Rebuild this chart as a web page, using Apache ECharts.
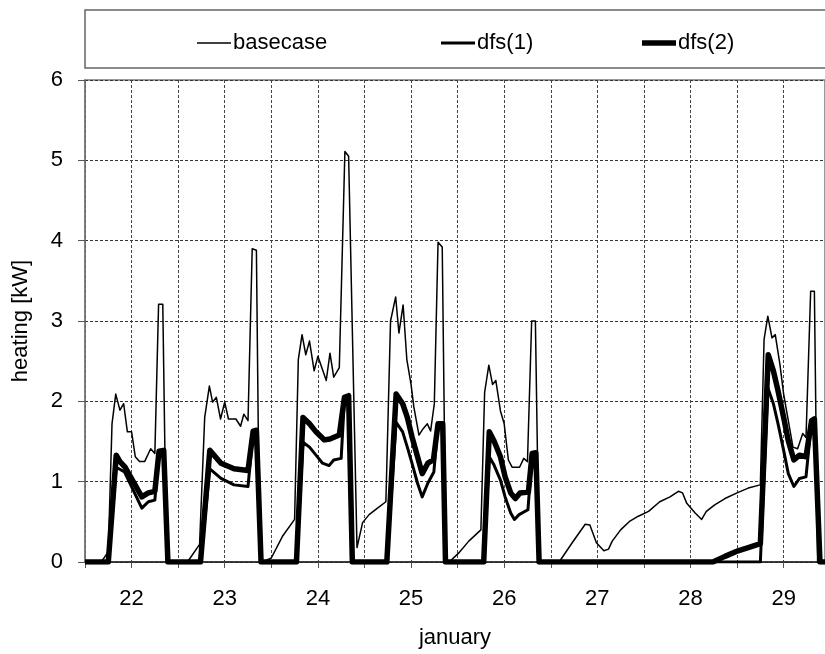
<!DOCTYPE html>
<html lang="en">
<head>
    <meta charset="UTF-8">
    <title>heating</title>
    <script src="https://cdn.jsdelivr.net/npm/echarts@6/dist/echarts.min.js"></script>
    <style>
        html, body { margin: 0; width: 100%; height: 100%; background: #fff; }
        #chart { width: 825px; height: 654px; }
    </style>
</head>
<body>
    <div id="chart"></div>
    <script>
        // [day of january, kW]
        var basecase = [
            [21.5, 0], [21.67, 0], [21.71, 0.06], [21.75, 0.13], [21.79, 1.72], [21.83, 2.09], [21.875, 1.89],
            [21.915, 1.97], [21.955, 1.62], [22.0, 1.62], [22.04, 1.31], [22.085, 1.25], [22.14, 1.25],
            [22.205, 1.41], [22.25, 1.35], [22.29, 3.21], [22.335, 3.21], [22.375, 0],
            [22.6, 0], [22.73, 0.22], [22.785, 1.80], [22.835, 2.19], [22.87, 1.99], [22.91, 2.05], [22.955, 1.78],
            [23.0, 1.99], [23.04, 1.78], [23.12, 1.78], [23.17, 1.69], [23.205, 1.84], [23.25, 1.76],
            [23.295, 3.90], [23.34, 3.88], [23.375, 0],
            [23.41, 0], [23.5, 0.05], [23.62, 0.32], [23.75, 0.53], [23.79, 2.52], [23.83, 2.83], [23.87, 2.58],
            [23.91, 2.75], [23.96, 2.38], [24.0, 2.56], [24.09, 2.26], [24.13, 2.60], [24.17, 2.30],
            [24.23, 2.42], [24.25, 2.44], [24.29, 5.11], [24.33, 5.05], [24.42, 0.18], [24.48, 0.49],
            [24.55, 0.59], [24.64, 0.67], [24.73, 0.75],
            [24.78, 3.0], [24.835, 3.30], [24.87, 2.85], [24.915, 3.2], [24.955, 2.52], [25.0, 2.21],
            [25.03, 1.93], [25.085, 1.58], [25.13, 1.66], [25.175, 1.72], [25.21, 1.63], [25.25, 1.97],
            [25.29, 3.98], [25.335, 3.92], [25.375, 0],
            [25.41, 0], [25.51, 0.11], [25.62, 0.26], [25.75, 0.40], [25.79, 2.11], [25.835, 2.45],
            [25.875, 2.21], [25.91, 2.26], [25.96, 1.88], [26.0, 1.72], [26.045, 1.27], [26.085, 1.18],
            [26.165, 1.18], [26.21, 1.29], [26.25, 1.25], [26.295, 3.0], [26.335, 3.0], [26.375, 0],
            [26.59, 0], [26.73, 0.24], [26.87, 0.47], [26.92, 0.46], [26.99, 0.24], [27.07, 0.14],
            [27.12, 0.16], [27.16, 0.26], [27.25, 0.40], [27.35, 0.51], [27.44, 0.57], [27.55, 0.63],
            [27.67, 0.75], [27.78, 0.81], [27.87, 0.88], [27.915, 0.86], [27.96, 0.73], [28.05, 0.61],
            [28.12, 0.53], [28.17, 0.63], [28.26, 0.71], [28.37, 0.79], [28.5, 0.86], [28.62, 0.92],
            [28.75, 0.96],
            [28.79, 2.77], [28.83, 3.06], [28.875, 2.79], [28.91, 2.83], [28.96, 2.46], [29.0, 2.09],
            [29.05, 1.76], [29.1, 1.43], [29.15, 1.41], [29.205, 1.60], [29.24, 1.55], [29.29, 3.37],
            [29.33, 3.37], [29.365, 0], [29.5, 0]
        ];

        var dfs1 = [
            [21.5, 0], [21.75, 0], [21.795, 0.6], [21.835, 1.18], [21.925, 1.12], [22.11, 0.67], [22.18, 0.75],
            [22.25, 0.77], [22.295, 1.37], [22.345, 1.39], [22.39, 0],
            [22.74, 0], [22.84, 1.16], [22.96, 1.04], [23.1, 0.96], [23.25, 0.94], [23.305, 1.62],
            [23.34, 1.64], [23.39, 0],
            [23.77, 0], [23.84, 1.49], [23.91, 1.43], [23.98, 1.33], [24.05, 1.23], [24.12, 1.20],
            [24.17, 1.27], [24.25, 1.29], [24.285, 2.03], [24.33, 2.06], [24.37, 0],
            [24.74, 0], [24.84, 1.74], [24.91, 1.62], [24.96, 1.43], [25.01, 1.23], [25.07, 0.98],
            [25.12, 0.81], [25.18, 0.98], [25.245, 1.12], [25.29, 1.72], [25.34, 1.72], [25.37, 0],
            [25.78, 0], [25.84, 1.31], [25.89, 1.21], [25.96, 1.02], [26.01, 0.81], [26.07, 0.61],
            [26.11, 0.53], [26.16, 0.59], [26.255, 0.65], [26.30, 1.35], [26.34, 1.36], [26.375, 0],
            [28.75, 0], [28.83, 2.17], [28.89, 1.97], [28.94, 1.72], [29.0, 1.39], [29.05, 1.10],
            [29.11, 0.94], [29.17, 1.04], [29.24, 1.06], [29.3, 1.76], [29.33, 1.78], [29.39, 0], [29.5, 0]
        ];

        var dfs2 = [
            [21.5, 0], [21.75, 0], [21.795, 0.7], [21.835, 1.33], [21.875, 1.25], [21.93, 1.18], [22.11, 0.81],
            [22.18, 0.86], [22.25, 0.88], [22.295, 1.38], [22.345, 1.39], [22.39, 0],
            [22.74, 0], [22.84, 1.39], [22.96, 1.23], [23.1, 1.16], [23.25, 1.14], [23.305, 1.63],
            [23.34, 1.64], [23.39, 0],
            [23.77, 0], [23.84, 1.80], [23.91, 1.72], [23.98, 1.62], [24.07, 1.52], [24.13, 1.53],
            [24.23, 1.58], [24.285, 2.05], [24.33, 2.07], [24.37, 0],
            [24.74, 0], [24.84, 2.09], [24.91, 1.97], [24.96, 1.80], [25.01, 1.56], [25.07, 1.31],
            [25.12, 1.10], [25.18, 1.23], [25.24, 1.27], [25.29, 1.72], [25.34, 1.72], [25.37, 0],
            [25.78, 0], [25.84, 1.62], [25.89, 1.51], [25.96, 1.31], [26.01, 1.06], [26.07, 0.86],
            [26.12, 0.79], [26.17, 0.86], [26.26, 0.87], [26.30, 1.35], [26.34, 1.36], [26.375, 0],
            [28.24, 0], [28.37, 0.07], [28.51, 0.14], [28.62, 0.18], [28.75, 0.23], [28.835, 2.58],
            [28.89, 2.38], [28.94, 2.13], [29.0, 1.80], [29.05, 1.51], [29.11, 1.27], [29.17, 1.33],
            [29.24, 1.31], [29.3, 1.76], [29.33, 1.78], [29.39, 0], [29.5, 0]
        ];

        var seriesNames = ['basecase', 'dfs(1)', 'dfs(2)'];
        var lineWidths = [1.5, 3, 5.5];
        var legendLeft = [192, 436, 637];

        var font = "'Liberation Sans', Arial, sans-serif";
        var chart = echarts.init(document.getElementById('chart'), null, { renderer: 'canvas' });

        var option = {
            animation: false,
            textStyle: { fontFamily: font, color: '#000' },
            graphic: [{
                type: 'rect',
                shape: { x: 85, y: 10, width: 760, height: 58 },
                style: { fill: 'none', stroke: '#666', lineWidth: 1.5 },
                silent: true
            }],
            // one legend per series so each icon gets its own line thickness
            legend: seriesNames.map(function (name, i) {
                return {
                    left: legendLeft[i],
                    top: 27,
                    icon: 'rect',
                    itemWidth: 34,
                    itemHeight: lineWidths[i],
                    itemStyle: { color: '#000' },
                    textStyle: { fontSize: 22, fontFamily: font, color: '#000', padding: [0, 0, 0, -3] },
                    selectedMode: false,
                    data: [name]
                };
            }),
            grid: {
                left: 85,
                right: -2,
                top: 80,
                bottom: 88,
                show: true,
                borderColor: '#777',
                borderWidth: 1.5,
                containLabel: false
            },
            xAxis: {
                type: 'value',
                min: 21.5,
                max: 29.444,
                interval: 0.5,
                name: 'january',
                nameLocation: 'middle',
                nameGap: 65,
                nameTextStyle: { fontSize: 22, fontFamily: font, color: '#000' },
                axisLine: { show: true, lineStyle: { color: '#222', width: 1.5 } },
                axisTick: { show: true, inside: false, length: 6, lineStyle: { color: '#555' } },
                axisLabel: {
                    fontSize: 22,
                    color: '#000',
                    margin: 26,
                    showMaxLabel: false,
                    formatter: function (v) { return Number.isInteger(v) ? String(v) : ''; }
                },
                splitLine: { show: true, lineStyle: { color: '#444', type: [3, 2], width: 1 } }
            },
            yAxis: {
                type: 'value',
                min: 0,
                max: 6,
                interval: 1,
                name: 'heating [kW]',
                nameLocation: 'middle',
                nameRotate: 90,
                nameGap: 53,
                nameTextStyle: { fontSize: 22, fontFamily: font, color: '#000' },
                axisLine: { show: true, lineStyle: { color: '#777', width: 1.5 } },
                axisTick: { show: true, inside: false, length: 7, lineStyle: { color: '#555' } },
                axisLabel: { fontSize: 22, color: '#000', margin: 22 },
                splitLine: { show: true, lineStyle: { color: '#333', type: [3, 2], width: 1 } }
            },
            series: [basecase, dfs1, dfs2].map(function (d, i) {
                return {
                    name: seriesNames[i],
                    type: 'line',
                    data: d,
                    symbol: 'none',
                    clip: true,
                    z: 3 + i,
                    lineStyle: { color: '#000', width: lineWidths[i], join: 'round' },
                    itemStyle: { color: '#000' }
                };
            })
        };
        chart.setOption(option);
    </script>
</body>
</html>
